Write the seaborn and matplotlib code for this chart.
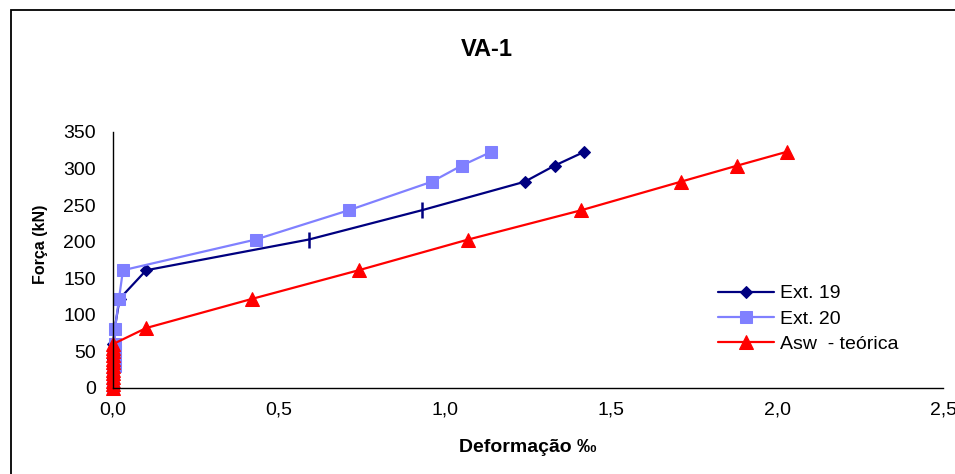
import numpy as np
import pandas as pd
import matplotlib
matplotlib.use('Agg')
import matplotlib.pyplot as plt
from matplotlib.patches import Rectangle
import seaborn as sns

# Carga (kN)
loads_19 = [0, 10, 20, 30, 40, 50, 60, 81, 122, 161, 203, 243, 282, 304, 323]
def_19 = [0.0, 0.0, 0.0, 0.0, 0.0, 0.0, 0.0, 0.005, 0.02, 0.10, 0.59, 0.93, 1.24, 1.33, 1.42]
tick_idx_19 = [10, 11]  # points drawn with a vertical dash instead of a diamond

loads_20 = [0, 10, 20, 30, 40, 50, 60, 81, 122, 161, 203, 243, 282, 304, 323]
def_20 = [0.0, 0.0, 0.0, 0.005, 0.005, 0.005, 0.005, 0.006, 0.018, 0.03, 0.43, 0.71, 0.96, 1.05, 1.14]

loads_asw = [0, 5, 10, 15, 20, 25, 30, 35, 40, 45, 50, 55, 60, 82, 122, 161, 203, 243, 282, 304, 323]
def_asw = [0.0, 0.0, 0.0, 0.0, 0.0, 0.0, 0.0, 0.0, 0.0, 0.0, 0.0, 0.0, 0.0,
           0.10, 0.42, 0.74, 1.07, 1.41, 1.71, 1.88, 2.03]

labels = ['Ext. 19', 'Ext. 20', 'Asw  - teórica']
x_ticks = [0.0, 0.5, 1.0, 1.5, 2.0, 2.5]
y_ticks = [0, 50, 100, 150, 200, 250, 300, 350]

sns.set_style('white')
plt.rcParams['font.family'] = ['Liberation Sans', 'DejaVu Sans']
plt.rcParams['text.color'] = 'black'
plt.rcParams['axes.labelcolor'] = 'black'
plt.rcParams['xtick.color'] = 'black'
plt.rcParams['ytick.color'] = 'black'

fig = plt.figure(figsize=(9.55, 4.74), dpi=100)
ax = fig.add_axes([113 / 955, 1 - 388 / 474, 830 / 955, 256 / 474])

navy = '#000080'
lilac = '#8080FF'
red = '#FF0000'

# Ext. 19
diamond_every = [i for i in range(len(def_19)) if i not in tick_idx_19]
sns.lineplot(x=def_19, y=loads_19, ax=ax, estimator=None, sort=False, color=navy,
             lw=1.6, marker='D', markersize=6.5, markeredgecolor=navy,
             markevery=diamond_every, label=labels[0])
ax.plot([def_19[i] for i in tick_idx_19], [loads_19[i] for i in tick_idx_19],
        ls='none', marker='|', markersize=11, markeredgewidth=1.8, color=navy)

# Ext. 20
sns.lineplot(x=def_20, y=loads_20, ax=ax, estimator=None, sort=False, color=lilac,
             lw=1.6, marker='s', markersize=9, markeredgecolor=lilac, label=labels[1])

# Asw - teorica
sns.lineplot(x=def_asw, y=loads_asw, ax=ax, estimator=None, sort=False, color=red,
             lw=1.6, marker='^', markersize=10, markeredgecolor=red, label=labels[2])

ax.set_xlim(0, 2.5)
ax.set_ylim(0, 350)
ax.set_xticks(x_ticks)
ax.set_xticklabels([f'{v:.1f}'.replace('.', ',') for v in x_ticks])
ax.set_yticks(y_ticks)
ax.set_yticklabels([str(v) for v in y_ticks])
for lab in ax.get_xticklabels() + ax.get_yticklabels():
    lab.set_fontsize(14)
    lab.set_color('black')
ax.tick_params(axis='y', direction='inout', length=8.6, width=1, color='black', pad=8)
ax.tick_params(axis='x', direction='out', length=5, width=1, color='black', pad=5)

for side in ['top', 'right']:
    ax.spines[side].set_visible(False)
for side in ['left', 'bottom']:
    ax.spines[side].set_color('black')
    ax.spines[side].set_linewidth(1)
ax.patch.set_alpha(0)
for ln in ax.get_lines():
    ln.set_clip_on(False)

ax.set_xlabel('')
ax.set_ylabel('')
fig.text(528 / 955, 1 - 447 / 474, 'Deformação ‰', ha='center', va='center',
         fontsize=14, fontweight='bold')
fig.text(40 / 955, 1 - 244 / 474, 'Força (kN)', ha='center', va='center',
         rotation=90, fontsize=11.5, fontweight='bold')
fig.text(487 / 955, 1 - 49 / 474, 'VA-1', ha='center', va='center',
         fontsize=17, fontweight='bold')

leg = ax.legend(loc='upper left', bbox_to_anchor=(708 / 955, 1 - 275 / 474),
                bbox_transform=fig.transFigure, frameon=False, fontsize=14,
                handlelength=2.9, handletextpad=0.3, labelspacing=0.4, borderpad=0)

# chart area border
fig.patches.append(Rectangle((11 / 955, -0.1), 2, 1 - 10 / 474 + 0.1,
                             transform=fig.transFigure, fill=False,
                             ec='black', lw=1.3))

fig.savefig('out.png', dpi=100)
